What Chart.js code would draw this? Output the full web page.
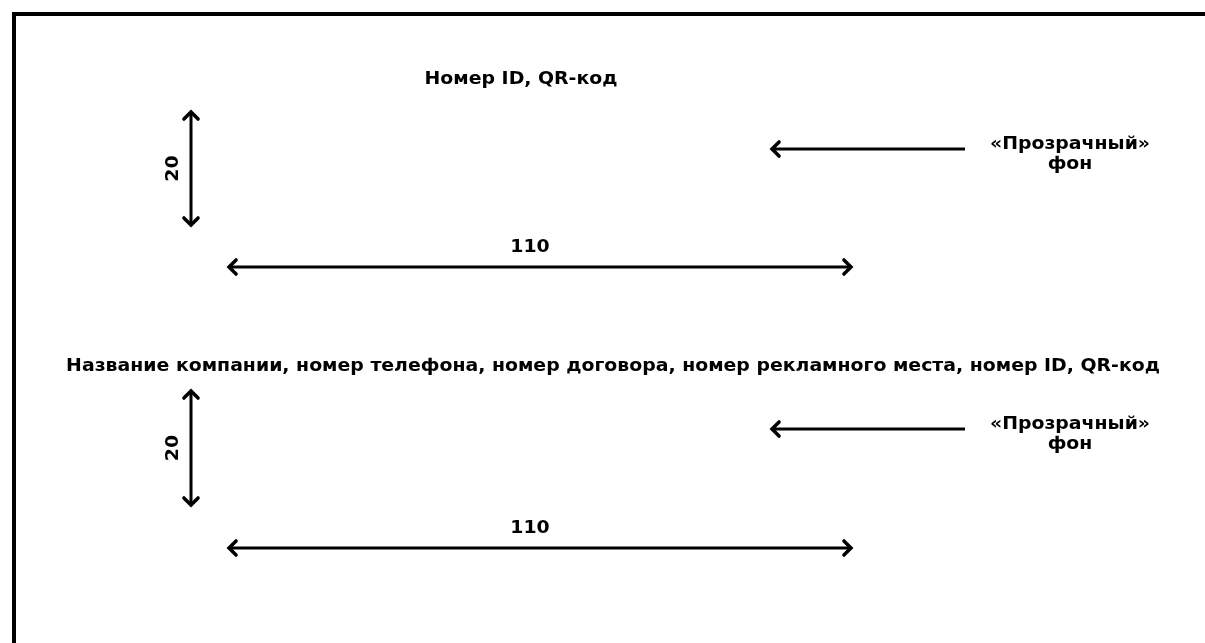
<!DOCTYPE html>
<html>
<head>
<meta charset="utf-8">
<script src="https://cdn.jsdelivr.net/npm/chart.js@4.4.0/dist/chart.umd.min.js"></script>
<style>
html,body{margin:0;padding:0;background:#fff;}
#wrap{width:1205px;height:643px;position:relative;}
</style>
</head>
<body>
<div id="wrap"><canvas id="c"></canvas></div>
<script>
// Diagram coordinate space (same units as the 1205x643 picture)
const frameX = [14, 14, 1205];
const frameY = [643, 14, 14];

const titles = ['Номер ID, QR-код',
  'Название компании, номер телефона, номер договора, номер рекламного места, номер ID, QR-код'];
const titleX = [521, 613];
const titleY = [80, 367];

// vertical dimension arrows (height 20)
const vArrowX = [191, 191];
const vArrowTop = [112, 391];
const vArrowBottom = [225, 505];
const vArrowLabels = ['20', '20'];

// horizontal dimension arrows (width 110)
const hArrowY = [267, 548];
const hArrowLeft = [229, 229];
const hArrowRight = [851, 851];
const hArrowLabelX = [530, 530];
const hArrowLabels = ['110', '110'];

// pointer arrows to "transparent background" note
const bgArrowY = [149, 429];
const bgArrowFrom = [965, 965];
const bgArrowTo = [772, 772];
const bgNoteX = [1070, 1070];
const bgNoteLines = ['«Прозрачный»', 'фон'];

const datasets = [];
datasets.push({data: frameX.map((x,i)=>({x, y: frameY[i]})), borderColor:'#000', borderWidth:4});
vArrowX.forEach((x,i)=>datasets.push({data:[{x,y:vArrowTop[i]},{x,y:vArrowBottom[i]}], borderColor:'#000', borderWidth:3, arrows:'both'}));
hArrowY.forEach((y,i)=>datasets.push({data:[{x:hArrowLeft[i],y},{x:hArrowRight[i],y}], borderColor:'#000', borderWidth:3, arrows:'both'}));
bgArrowY.forEach((y,i)=>datasets.push({data:[{x:bgArrowFrom[i],y},{x:bgArrowTo[i],y}], borderColor:'#000', borderWidth:3, arrows:'end'}));
datasets.forEach(d=>{d.showLine=true; d.pointRadius=0; d.fill=false; d.tension=0;});

const FONT = 'bold 17px "DejaVu Sans", sans-serif';
const STRETCH = 1.11;

const overlay = {
  id:'overlay',
  afterDatasetsDraw(chart){
    const ctx = chart.ctx, xs = chart.scales.x, ys = chart.scales.y;
    ctx.save();
    // arrowheads
    chart.data.datasets.forEach(ds=>{
      if(!ds.arrows) return;
      const pts = ds.data.map(p=>[xs.getPixelForValue(p.x), ys.getPixelForValue(p.y)]);
      const head = (tip, from)=>{
        const ang = Math.atan2(tip[1]-from[1], tip[0]-from[0]);
        const L = 10, a = Math.PI/4;
        ctx.beginPath();
        ctx.moveTo(tip[0]-L*Math.cos(ang-a), tip[1]-L*Math.sin(ang-a));
        ctx.lineTo(tip[0], tip[1]);
        ctx.lineTo(tip[0]-L*Math.cos(ang+a), tip[1]-L*Math.sin(ang+a));
        ctx.strokeStyle='#000'; ctx.lineWidth=3.5; ctx.lineJoin='miter'; ctx.lineCap='round';
        ctx.stroke();
      };
      head(pts[1], pts[0]);
      if(ds.arrows==='both') head(pts[0], pts[1]);
    });
    ctx.fillStyle='#000';
    ctx.font = FONT;
    ctx.textAlign='center'; ctx.textBaseline='middle';
    const text = (t, px, py, rot)=>{
      ctx.save();
      ctx.translate(px, py);
      if(rot) ctx.rotate(rot);
      ctx.scale(STRETCH, 1);
      ctx.fillText(t, 0, 0);
      ctx.restore();
    };
    titles.forEach((t,i)=>text(t, xs.getPixelForValue(titleX[i]), ys.getPixelForValue(titleY[i])));
    hArrowY.forEach((y,i)=>text(hArrowLabels[i], xs.getPixelForValue(hArrowLabelX[i]), ys.getPixelForValue(y-19)));
    vArrowX.forEach((x,i)=>text(vArrowLabels[i], xs.getPixelForValue(x-17), ys.getPixelForValue((vArrowTop[i]+vArrowBottom[i])/2), -Math.PI/2));
    bgArrowY.forEach((y,i)=>{
      bgNoteLines.forEach((ln,j)=>text(ln, xs.getPixelForValue(bgNoteX[i]), ys.getPixelForValue(y-4+j*20)));
    });
    ctx.restore();
  }
};

new Chart(document.getElementById('c'), {
  type:'scatter',
  data:{datasets},
  options:{
    responsive:true, maintainAspectRatio:false, animation:false,
    layout:{padding:0},
    plugins:{legend:{display:false}, tooltip:{enabled:false}},
    scales:{
      x:{type:'linear', min:0, max:1205, display:false},
      y:{type:'linear', min:0, max:643, reverse:true, display:false}
    }
  },
  plugins:[overlay]
});
</script>
</body>
</html>
